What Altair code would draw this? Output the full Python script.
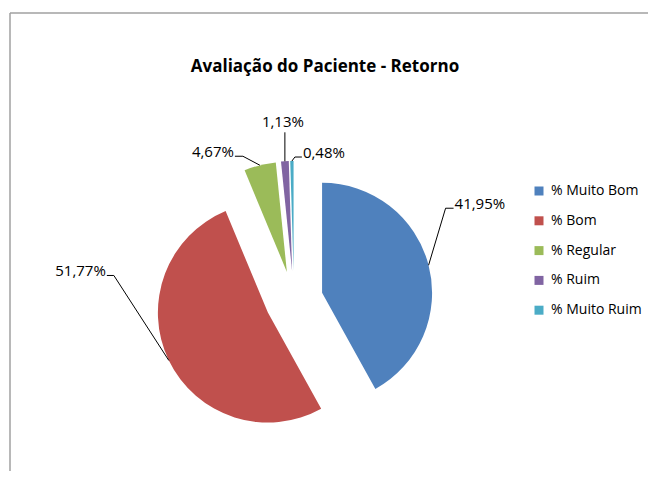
import math
import altair as alt
import pandas as pd

# ---------------- data ----------------
TITLE = "Avaliação do Paciente - Retorno"
categories = ["% Muito Bom", "% Bom", "% Regular", "% Ruim", "% Muito Ruim"]
values = [41.95, 51.77, 4.67, 1.13, 0.48]
value_labels = ["41,95%", "51,77%", "4,67%", "1,13%", "0,48%"]
colors = ["#4F81BD", "#C0504D", "#9BBB59", "#8064A2", "#4BACC6"]

# ---------------- layout ----------------
W, H = 640, 463
CX, CY = 286, 292          # pie centre (plot px)
EXPLODE = 29               # radial explosion of every slice
R = 110                    # pie radius
# leader line: elbow offset from slice edge (at mid-angle), then horizontal stub
elbow_dx = [17, -55, -17, 0, 3]
elbow_dy = [-57, -85, -9, -29, -4]
stub = [8, -7, -8, 0, 7]
anchor = ["left", "right", "right", "center", "left"]
FONT = "Open Sans"

# ---------------- geometry from the values ----------------
total = sum(values)
rows, line_rows, text_rows = [], [], []
cum = 0.0
for i, (c, v) in enumerate(zip(categories, values)):
    start, end = cum, cum + v
    cum = end
    mid = (start + end) / 2 / total * 2 * math.pi
    ux, uy = math.sin(mid), -math.cos(mid)
    scx, scy = CX + EXPLODE * ux, CY + EXPLODE * uy
    rows.append(dict(category=c, value=v, start=start, end=end, cx=scx, cy=scy))
    ex, ey = scx + R * ux, scy + R * uy
    bx, by = ex + elbow_dx[i], ey + elbow_dy[i]
    sx, sy = bx + stub[i], by
    for o, (px, py) in enumerate([(ex, ey), (bx, by), (sx, sy)]):
        line_rows.append(dict(category=c, o=o, px=px, py=py))
    if anchor[i] == "left":
        tx, ty = sx + 1, sy - 4
    elif anchor[i] == "right":
        tx, ty = sx - 1, sy - 4
    else:
        tx, ty = sx - 2, sy - 10
    text_rows.append(dict(category=c, label=value_labels[i], tx=tx, ty=ty, anchor=anchor[i]))

slices = pd.DataFrame(rows)
lines = pd.DataFrame(line_rows)
texts = pd.DataFrame(text_rows)

xs = alt.Scale(domain=[0, W], nice=False, zero=False)
ys = alt.Scale(domain=[0, H], nice=False, zero=False, reverse=True)

pie = alt.Chart(slices).mark_arc(outerRadius=R).encode(
    x=alt.X("cx:Q", scale=xs, axis=None),
    y=alt.Y("cy:Q", scale=ys, axis=None),
    theta=alt.Theta("start:Q", scale=alt.Scale(domain=[0, total], range=[0, 2 * math.pi])),
    theta2="end:Q",
    color=alt.Color(
        "category:N",
        sort=categories,
        scale=alt.Scale(domain=categories, range=colors),
        legend=alt.Legend(
            title=None, orient="none", legendX=524, legendY=176,
            symbolType="square", symbolSize=81, symbolStrokeWidth=0,
            labelFont=FONT, labelFontSize=14, labelColor="#000000",
            labelOffset=5, rowPadding=15.8,
        ),
    ),
)

leaders = alt.Chart(lines).mark_line(color="#000000", strokeWidth=1).encode(
    x=alt.X("px:Q", scale=xs, axis=None),
    y=alt.Y("py:Q", scale=ys, axis=None),
    detail="category:N",
    order="o:Q",
)

def label_layer(a):
    return alt.Chart(texts).transform_filter(alt.datum.anchor == a).mark_text(
        align=a, baseline="middle", font=FONT, fontSize=15, color="#000000"
    ).encode(
        x=alt.X("tx:Q", scale=xs, axis=None),
        y=alt.Y("ty:Q", scale=ys, axis=None),
        text="label:N",
    )

title = alt.Chart(pd.DataFrame({"t": [TITLE]})).mark_text(
    font=FONT, fontSize=17, fontWeight="bold", color="#000000", align="center", baseline="alphabetic"
).encode(x=alt.value(317), y=alt.value(64), text="t:N")

frame = alt.Chart(pd.DataFrame({"k": [0]}))
top_rule = frame.mark_rule(color="#A0A0A0", strokeWidth=1.5).encode(
    x=alt.value(2), x2=alt.value(W), y=alt.value(5))
left_rule = frame.mark_rule(color="#A0A0A0", strokeWidth=1.5).encode(
    x=alt.value(2), y=alt.value(5), y2=alt.value(H))

chart = alt.layer(
    top_rule, left_rule, pie, leaders,
    label_layer("left"), label_layer("right"), label_layer("center"), title,
).properties(width=W, height=H, padding=0, autosize="none", background="white"
).configure_view(stroke="transparent")

chart.save("out.html", embed_options={"renderer": "svg", "actions": False})
